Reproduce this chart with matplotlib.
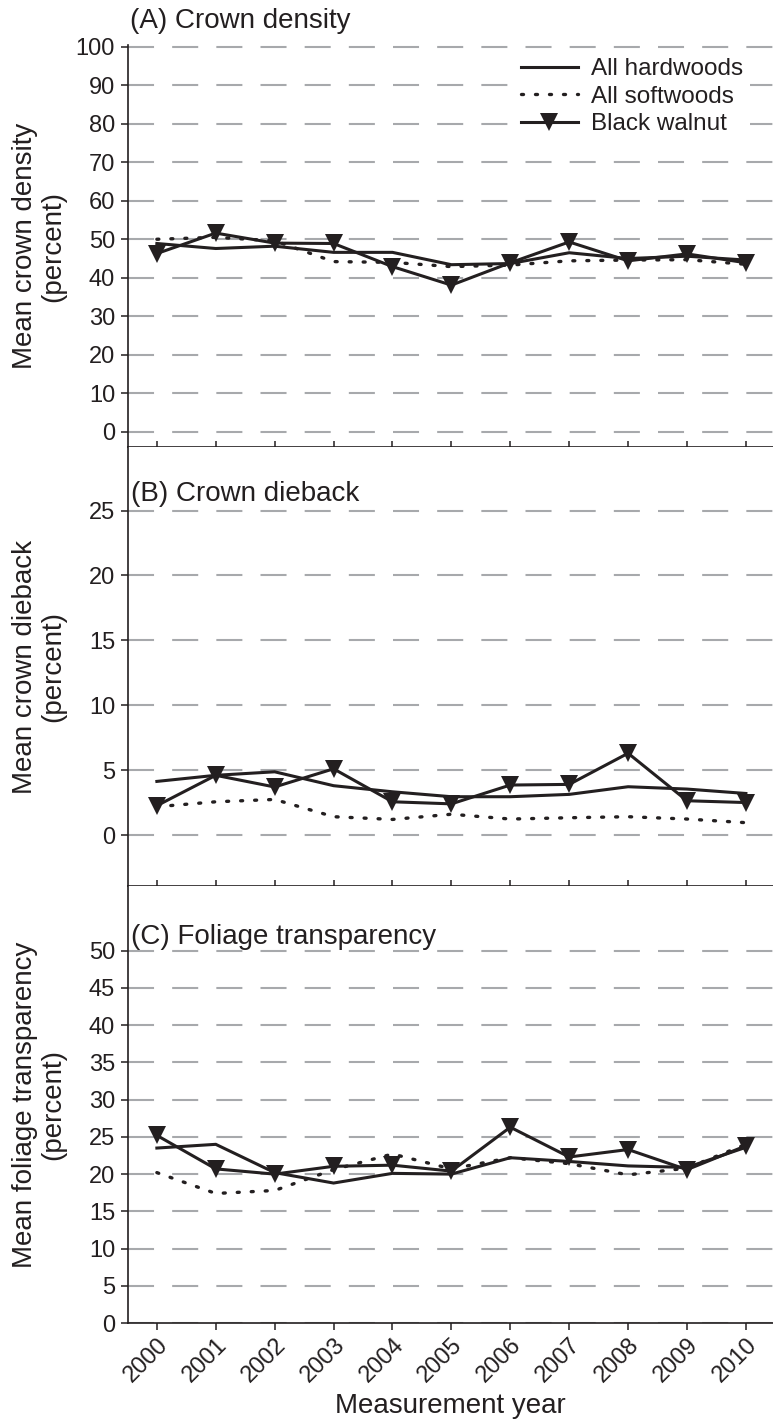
import matplotlib
matplotlib.use('Agg')
import matplotlib.pyplot as plt

# ---------------- data ----------------
years = [2000, 2001, 2002, 2003, 2004, 2005, 2006, 2007, 2008, 2009, 2010]

density_hardwoods = [48.9, 47.6, 48.2, 46.6, 46.6, 43.4, 43.7, 46.5, 45.0, 45.6, 44.6]
density_softwoods = [50.0, 50.5, 49.6, 44.2, 44.0, 42.9, 43.3, 44.4, 44.6, 44.7, 43.5]
density_walnut = [46.3, 51.6, 49.0, 48.9, 42.9, 38.1, 43.9, 49.3, 44.4, 46.2, 43.9]

dieback_hardwoods = [4.13, 4.60, 4.87, 3.80, 3.33, 2.95, 2.95, 3.13, 3.72, 3.54, 3.20]
dieback_softwoods = [2.18, 2.56, 2.74, 1.41, 1.20, 1.60, 1.23, 1.33, 1.41, 1.23, 0.95]
dieback_walnut = [2.26, 4.60, 3.70, 5.10, 2.56, 2.40, 3.85, 3.90, 6.30, 2.64, 2.50]

transp_hardwoods = [23.5, 24.0, 20.2, 18.8, 20.1, 20.0, 22.2, 21.7, 21.1, 20.9, 23.6]
transp_softwoods = [20.2, 17.4, 17.8, 20.6, 22.7, 20.7, 22.2, 21.4, 19.9, 20.8, 24.0]
transp_walnut = [25.2, 20.7, 20.0, 21.05, 21.2, 20.4, 26.3, 22.3, 23.3, 20.6, 23.8]

series_labels = ["All hardwoods", "All softwoods", "Black walnut"]
panel_titles = ["(A) Crown density", "(B) Crown dieback", "(C) Foliage transparency"]
y_labels = ["Mean crown density\n(percent)", "Mean crown dieback\n(percent)",
            "Mean foliage transparency\n(percent)"]
x_label = "Measurement year"

# ---------------- style ----------------
plt.rcParams['font.family'] = ['Liberation Sans', 'DejaVu Sans']
INK = '#231f20'
GRID = '#a7a9ac'

W_PX, H_PX = 773, 1425
fig = plt.figure(figsize=(W_PX / 100, H_PX / 100), dpi=100)

left = 128 / W_PX
width = 1 - left


def axes_box(top_px, bottom_px):
    return [left, 1 - bottom_px / H_PX, width, (bottom_px - top_px) / H_PX]


axA = fig.add_axes(axes_box(45, 447))
axB = fig.add_axes(axes_box(447, 886))
axC = fig.add_axes(axes_box(886, 1323))

panels = [
    (axA, density_hardwoods, density_softwoods, density_walnut,
     (-3.9, 100.4), list(range(0, 101, 10))),
    (axB, dieback_hardwoods, dieback_softwoods, dieback_walnut,
     (-3.93, 29.9), list(range(0, 26, 5))),
    (axC, transp_hardwoods, transp_softwoods, transp_walnut,
     (0, 58.7), list(range(0, 51, 5))),
]

title_pos = [(0.003, 1.042), (0.005, 0.877), (0.005, 0.867)]

for i, (ax, hw, sw, bw, ylim, yticks) in enumerate(panels):
    ax.plot(years, hw, color=INK, lw=2.2, solid_joinstyle='miter', zorder=3,
            label=series_labels[0])
    ax.plot(years, sw, color=INK, lw=2.4, linestyle=(0, (0.6, 3.6)),
            dash_capstyle='round', zorder=3, label=series_labels[1])
    ax.plot(years, bw, color=INK, lw=2.2, marker='v', markersize=13,
            markeredgewidth=0, zorder=4, label=series_labels[2])

    ax.set_xlim(1999.51, 2010.46)
    ax.set_ylim(*ylim)
    ax.set_yticks(yticks)
    ax.set_xticks(years)

    for s in ('top', 'right'):
        ax.spines[s].set_visible(False)
    for s in ('left', 'bottom'):
        ax.spines[s].set_linewidth(1.2)
        ax.spines[s].set_color(INK)

    ax.set_axisbelow(True)
    ax.yaxis.grid(True, color=GRID, lw=1.5, linestyle=(0, (12.5, 8.7)))
    ax.xaxis.grid(False)

    ax.tick_params(axis='y', direction='out', length=4.8, width=1.1,
                   color=INK, labelsize=17, labelcolor=INK, pad=4.5)
    if i < 2:
        ax.tick_params(axis='x', direction='in', length=4.5, width=1.1,
                       color=INK, labelbottom=False)
    else:
        ax.tick_params(axis='x', direction='out', length=4.8, width=1.1,
                       color=INK, labelsize=17, labelcolor=INK, pad=3)
        ax.set_xticklabels([str(y) for y in years], rotation=45, ha='right',
                           va='top', rotation_mode='anchor')

    ax.set_ylabel(y_labels[i], fontsize=20, color=INK, linespacing=1.08)
    ax.yaxis.set_label_coords(-0.096, 0.5)

    tx, ty = title_pos[i]
    ax.text(tx, ty, panel_titles[i], transform=ax.transAxes, fontsize=20,
            color=INK, ha='left', va='baseline')

leg = axA.legend(loc='upper right', bbox_to_anchor=(0.965, 0.985),
                 frameon=True, fancybox=False, framealpha=1,
                 facecolor='white', edgecolor='none', fontsize=17.5,
                 handlelength=2.35, handletextpad=0.55, labelspacing=0.22,
                 borderpad=0.3, borderaxespad=0)
for t in leg.get_texts():
    t.set_color(INK)

fig.text((128 + 773) / 2 / W_PX, 1 - 1413 / H_PX, x_label, fontsize=20,
         color=INK, ha='center', va='baseline')

fig.savefig('out.png', dpi=100)
